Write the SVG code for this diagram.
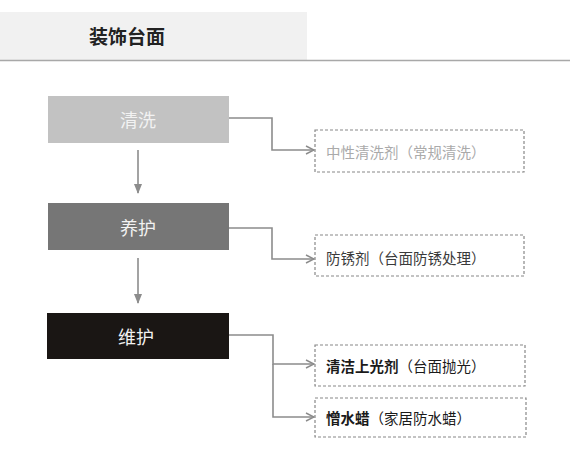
<svg xmlns="http://www.w3.org/2000/svg" width="570" height="462" viewBox="0 0 570 462">
<defs>
<style>
.cjk{font-family:"Noto Sans CJK SC","Noto Sans CJK JP",sans-serif;}
.step{font-size:18px;fill:#f2f2f2;text-anchor:middle;dominant-baseline:central;}
.opt{fill:#fff;stroke:#888;stroke-width:1.2;stroke-dasharray:3 2;}
.lbl{font-size:14.5px;dominant-baseline:central;}
.con{fill:none;stroke:#8c8c8c;stroke-width:1.6;}
</style>
<marker id="open" viewBox="0 0 10 10" refX="9" refY="5" markerWidth="10" markerHeight="10" markerUnits="userSpaceOnUse" orient="auto">
<path d="M1 1 L9 5 L1 9" fill="none" stroke="#8c8c8c" stroke-width="1.4"/>
</marker>
<marker id="solid" viewBox="0 0 10 10" refX="9" refY="5" markerWidth="10" markerHeight="10" markerUnits="userSpaceOnUse" orient="auto">
<path d="M0 1 L10 5 L0 9 Z" fill="#8c8c8c"/>
</marker>
</defs>
<rect width="570" height="462" fill="#fff"/>
<g id="header">
<rect x="0" y="12" width="307" height="48" fill="#f1f1f1"/>
<line x1="0" y1="60.5" x2="570" y2="60.5" stroke="#a8a8a8" stroke-width="1.5"/>
<text x="127" y="35" class="cjk" font-size="19" font-weight="bold" fill="#222" text-anchor="middle" dominant-baseline="central">装饰台面</text>
</g>
<g id="connectors">
<path class="con" d="M229 118 H272 V150 H314" marker-end="url(#open)"/>
<path class="con" d="M229 228 H272 V259 H314" marker-end="url(#open)"/>
<path class="con" d="M229 335 H273 V364 H314" marker-end="url(#open)"/>
<path class="con" d="M273 364 V417 H314" marker-end="url(#open)"/>
<path class="con" d="M138 150 V193" marker-end="url(#solid)"/>
<path class="con" d="M138 258 V303" marker-end="url(#solid)"/>
</g>
<g id="step-clean">
<rect x="48" y="96" width="181" height="47" fill="#c2c2c2"/>
<text x="138" y="119" class="cjk step">清洗</text>
</g>
<g id="step-care">
<rect x="48" y="203" width="181" height="47" fill="#767676"/>
<text x="138" y="227" class="cjk step">养护</text>
</g>
<g id="step-maintain">
<rect x="47" y="313" width="182" height="46" fill="#1a1614"/>
<text x="136" y="336" class="cjk step">维护</text>
</g>
<g id="opt-1">
<rect class="opt" x="315" y="130" width="209" height="42"/>
<text x="326" y="151" class="cjk lbl" fill="#aaaaaa" font-size="15">中性清洗剂（常规清洗）</text>
</g>
<g id="opt-2">
<rect class="opt" x="315" y="235" width="209" height="41"/>
<text x="326" y="257" class="cjk lbl" fill="#3a3a3a" font-size="15">防锈剂（台面防锈处理）</text>
</g>
<g id="opt-3">
<rect class="opt" x="315" y="345" width="210" height="41"/>
<text x="326" y="365" class="cjk lbl" fill="#1a1a1a" font-weight="bold">清洁上光剂<tspan font-weight="normal">（台面抛光）</tspan></text>
</g>
<g id="opt-4">
<rect class="opt" x="315" y="398" width="211" height="39"/>
<text x="326" y="417" class="cjk lbl" fill="#1a1a1a" font-weight="bold">憎水蜡<tspan font-weight="normal">（家居防水蜡）</tspan></text>
</g>
</svg>
